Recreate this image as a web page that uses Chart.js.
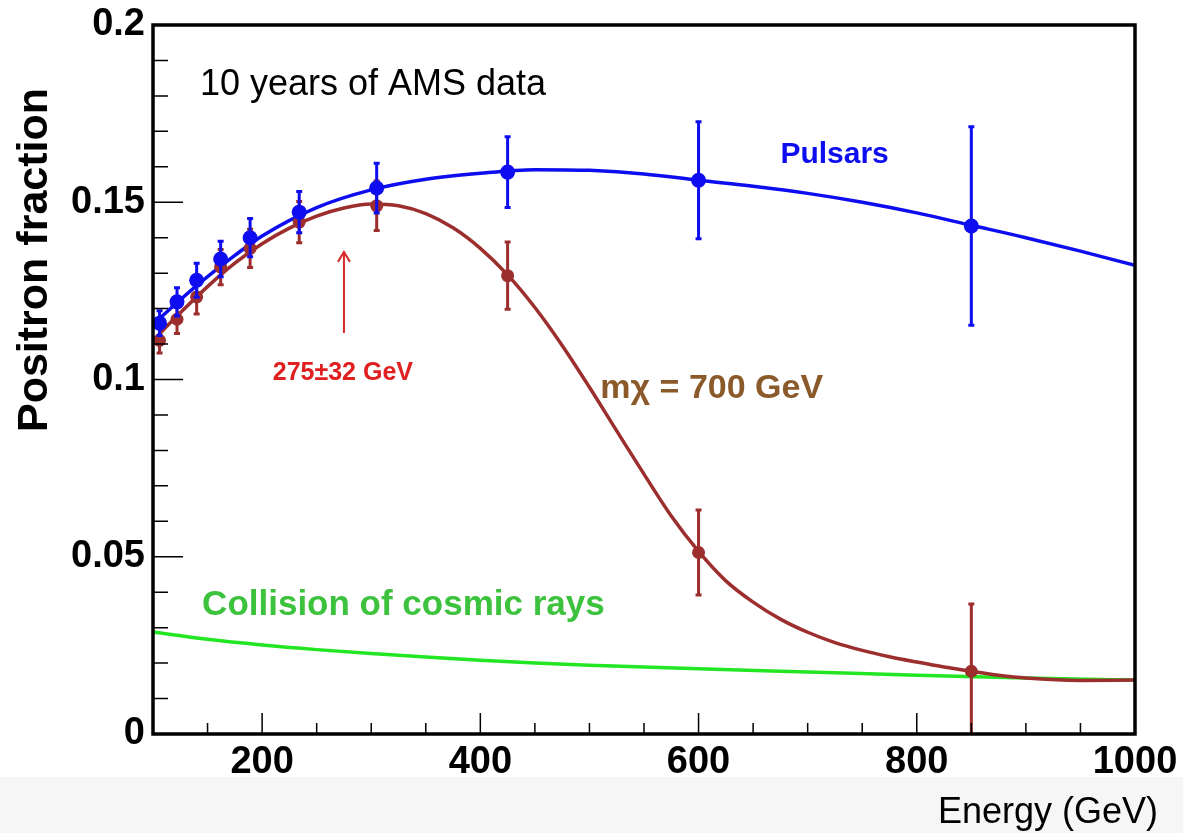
<!DOCTYPE html>
<html>
<head>
<meta charset="utf-8">
<title>Positron fraction</title>
<script src="https://cdn.jsdelivr.net/npm/chart.js@4.4.1/dist/chart.umd.min.js"></script>
<style>
  html, body { margin: 0; padding: 0; background: #fff; }
  #wrap { width: 1183px; height: 833px; }
</style>
</head>
<body>
<div id="wrap"><canvas id="positronChart" width="1183" height="833"></canvas></div>
<script>
// projected measurements, energy in GeV
const energies = [106, 122, 140, 162, 189, 234, 305, 425, 600, 850];
const pulsarPoints = [0.1159, 0.1219, 0.1280, 0.1340, 0.1400, 0.1472, 0.1540, 0.1585, 0.1562, 0.1433];
const pulsarErrors = [0.0035, 0.0040, 0.0048, 0.0050, 0.0054, 0.0058, 0.0070, 0.0100, 0.0165, 0.0280];
const dmPoints = [0.1110, 0.1170, 0.1233, 0.1317, 0.1370, 0.1444, 0.1490, 0.1293, 0.0512, 0.0177];
const dmErrors = [0.0035, 0.0040, 0.0048, 0.0050, 0.0054, 0.0058, 0.0070, 0.0095, 0.0120, 0.0190];

// model curves
const pulsarCurveE = [100, 125, 150, 175, 200, 250, 300, 350, 400, 450, 500, 550, 600, 650, 700, 750, 800, 850, 900, 950, 1000];
const pulsarCurve = [0.1155, 0.1225, 0.1290, 0.1350, 0.1405, 0.1485, 0.1535, 0.1565, 0.1582, 0.1592, 0.1590, 0.1580, 0.1562, 0.1545, 0.1525, 0.1500, 0.1470, 0.1435, 0.1400, 0.1362, 0.1322];
const dmCurveE = [100, 125, 150, 175, 200, 225, 250, 275, 300, 325, 350, 375, 400, 425, 450, 475, 500, 525, 550, 575, 600, 625, 650, 675, 700, 725, 750, 775, 800, 825, 850, 875, 900, 950, 1000];
const dmCurve = [0.1110, 0.1188, 0.1262, 0.1328, 0.1383, 0.1427, 0.1461, 0.1484, 0.1495, 0.1490, 0.1468, 0.1428, 0.1370, 0.1295, 0.1203, 0.1096, 0.0978, 0.0855, 0.0733, 0.0615, 0.0515, 0.0432, 0.0372, 0.0324, 0.0287, 0.0258, 0.0236, 0.0218, 0.0203, 0.0189, 0.0177, 0.0166, 0.0158, 0.0151, 0.0152];
const cosmicCurveE = [100, 150, 200, 250, 300, 350, 400, 450, 500, 600, 700, 800, 900, 1000];
const cosmicCurve = [0.0288, 0.0267, 0.0251, 0.0238, 0.0227, 0.0217, 0.0208, 0.0200, 0.0194, 0.0184, 0.0175, 0.0166, 0.0158, 0.0152];

// axes
const xTicks = [200, 400, 600, 800, 1000];
const yTicks = [0, 0.05, 0.1, 0.15, 0.2];
const yTickLabels = ['0', '0.05', '0.1', '0.15', '0.2'];

const FONT = '"Liberation Sans", Arial, Helvetica, sans-serif';
const BLUE = '#0d0df0';
const BROWN = '#9c2e2e';
const GREEN = '#22e622';

const toXY = (xs, ys) => xs.map((x, i) => ({ x: x, y: ys[i] }));

// vertical error bars, drawn right before the markers of a dataset
const errorBars = {
  id: 'errorBars',
  beforeDatasetDraw(chart, args) {
    const ds = chart.data.datasets[args.index];
    if (!ds.errors) return;
    const { ctx, chartArea, scales: { x, y } } = chart;
    ctx.save();
    ctx.beginPath();
    ctx.rect(chartArea.left, chartArea.top, chartArea.width, chartArea.height);
    ctx.clip();
    ctx.strokeStyle = ds.borderColor;
    ctx.lineWidth = 3;
    ds.data.forEach((p, i) => {
      const px = x.getPixelForValue(p.x);
      const top = y.getPixelForValue(p.y + ds.errors[i]);
      const bot = y.getPixelForValue(p.y - ds.errors[i]);
      ctx.beginPath();
      ctx.moveTo(px, top);
      ctx.lineTo(px, bot);
      ctx.moveTo(px - 3, top);
      ctx.lineTo(px + 3, top);
      ctx.moveTo(px - 3, bot);
      ctx.lineTo(px + 3, bot);
      ctx.stroke();
    });
    ctx.restore();
  }
};

// box frame with inward major and minor ticks
const frame = {
  id: 'frame',
  afterDatasetsDraw(chart) {
    const { ctx, chartArea: a, scales: { x, y } } = chart;
    ctx.save();
    ctx.strokeStyle = '#000';
    ctx.lineWidth = 1.5;
    ctx.beginPath();
    for (let e = 150; e < 1000; e += 50) {
      const px = x.getPixelForValue(e);
      const len = e % 200 === 0 ? 21 : 11;
      ctx.moveTo(px, a.bottom);
      ctx.lineTo(px, a.bottom - len);
    }
    for (let k = 1; k < 20; k++) {
      const py = y.getPixelForValue(k / 100);
      const len = k % 5 === 0 ? 30 : 15;
      ctx.moveTo(a.left, py);
      ctx.lineTo(a.left + len, py);
    }
    ctx.stroke();
    ctx.lineWidth = 3.5;
    ctx.strokeRect(a.left, a.top, a.right - a.left, a.bottom - a.top);
    ctx.restore();
  }
};

// labels, arrow and axis titles
const annotations = {
  id: 'annotations',
  afterDraw(chart) {
    const { ctx, scales: { x, y } } = chart;
    const text = (str, e, v, font, color, align) => {
      ctx.font = font;
      ctx.fillStyle = color;
      ctx.textAlign = align || 'left';
      ctx.textBaseline = 'alphabetic';
      ctx.fillText(str, x.getPixelForValue(e), y.getPixelForValue(v));
    };
    ctx.save();
    text('10 years of AMS data', 143, 0.1803, '36px ' + FONT, '#000');
    text('Pulsars', 675, 0.1611, 'bold 30px ' + FONT, BLUE);
    text('m\u03c7 = 700 GeV', 510, 0.0948, 'bold 34px ' + FONT, '#8a5a2a');
    text('Collision of cosmic rays', 145, 0.0336, 'bold 35px ' + FONT, '#3cc23c');
    text('275\u00b132 GeV', 274, 0.0999, 'bold 25px ' + FONT, '#e02020', 'center');

    // arrow marking the cutoff energy
    const ax = x.getPixelForValue(275);
    const aTop = y.getPixelForValue(0.136);
    const aBot = y.getPixelForValue(0.1131);
    ctx.strokeStyle = '#d42a2a';
    ctx.lineWidth = 2;
    ctx.beginPath();
    ctx.moveTo(ax, aBot);
    ctx.lineTo(ax, aTop);
    ctx.moveTo(ax - 6, aTop + 10);
    ctx.lineTo(ax, aTop);
    ctx.lineTo(ax + 6, aTop + 10);
    ctx.stroke();

    ctx.fillStyle = '#000';
    ctx.font = '36px ' + FONT;
    ctx.textAlign = 'right';
    ctx.fillText('Energy (GeV)', 1158, 823);

    ctx.translate(47, 260);
    ctx.rotate(-Math.PI / 2);
    ctx.font = 'bold 43px ' + FONT;
    ctx.textAlign = 'center';
    ctx.fillText('Positron fraction', 0, 0);
    ctx.restore();
  }
};

const pageBackground = {
  id: 'pageBackground',
  beforeDraw(chart) {
    const { ctx, width, height } = chart;
    ctx.save();
    ctx.fillStyle = '#fff';
    ctx.fillRect(0, 0, width, height);
    ctx.fillStyle = '#f6f6f6';
    ctx.fillRect(0, 777, width, height - 777);
    ctx.restore();
  }
};

const pointStyle = (color, r) => ({
  showLine: false,
  pointRadius: r,
  pointHoverRadius: r,
  pointBackgroundColor: color,
  pointBorderColor: color,
  pointBorderWidth: 0,
  borderColor: color
});

const curveStyle = (color) => ({
  showLine: true,
  pointRadius: 0,
  borderColor: color,
  borderWidth: 3.5,
  cubicInterpolationMode: 'monotone',
  fill: false
});

new Chart(document.getElementById('positronChart'), {
  type: 'scatter',
  data: {
    datasets: [
      Object.assign({ label: 'Pulsars data', data: toXY(energies, pulsarPoints), errors: pulsarErrors }, pointStyle(BLUE, 7.5)),
      Object.assign({ label: 'Dark matter data', data: toXY(energies, dmPoints), errors: dmErrors }, pointStyle(BROWN, 6.5)),
      Object.assign({ label: 'Pulsars', data: toXY(pulsarCurveE, pulsarCurve) }, curveStyle(BLUE)),
      Object.assign({ label: 'Dark matter', data: toXY(dmCurveE, dmCurve) }, curveStyle(BROWN)),
      Object.assign({ label: 'Collision of cosmic rays', data: toXY(cosmicCurveE, cosmicCurve) }, curveStyle(GREEN))
    ]
  },
  options: {
    responsive: false,
    animation: false,
    devicePixelRatio: 1,
    layout: { padding: { top: 25, right: 48, left: 0, bottom: 0 } },
    plugins: { legend: { display: false }, tooltip: { enabled: false } },
    scales: {
      x: {
        type: 'linear',
        min: 100,
        max: 1000,
        border: { display: false },
        grid: { display: false, drawTicks: false },
        afterBuildTicks: (s) => { s.ticks = xTicks.map(v => ({ value: v })); },
        afterFit: (s) => { s.height = 99; s.paddingLeft = 0; s.paddingRight = 0; },
        ticks: {
          padding: 6,
          maxRotation: 0,
          color: '#000',
          font: { family: FONT, size: 38, weight: 'bold' },
          callback: (v) => String(v)
        }
      },
      y: {
        min: 0,
        max: 0.2,
        border: { display: false },
        grid: { display: false, drawTicks: false },
        afterBuildTicks: (s) => { s.ticks = yTicks.map(v => ({ value: v })); },
        afterFit: (s) => { s.width = 153; s.paddingTop = 0; s.paddingBottom = 0; },
        ticks: {
          padding: 8,
          color: '#000',
          font: { family: FONT, size: 38, weight: 'bold' },
          callback: (v, i) => yTickLabels[i]
        }
      }
    }
  },
  plugins: [pageBackground, errorBars, frame, annotations]
});
</script>
</body>
</html>
